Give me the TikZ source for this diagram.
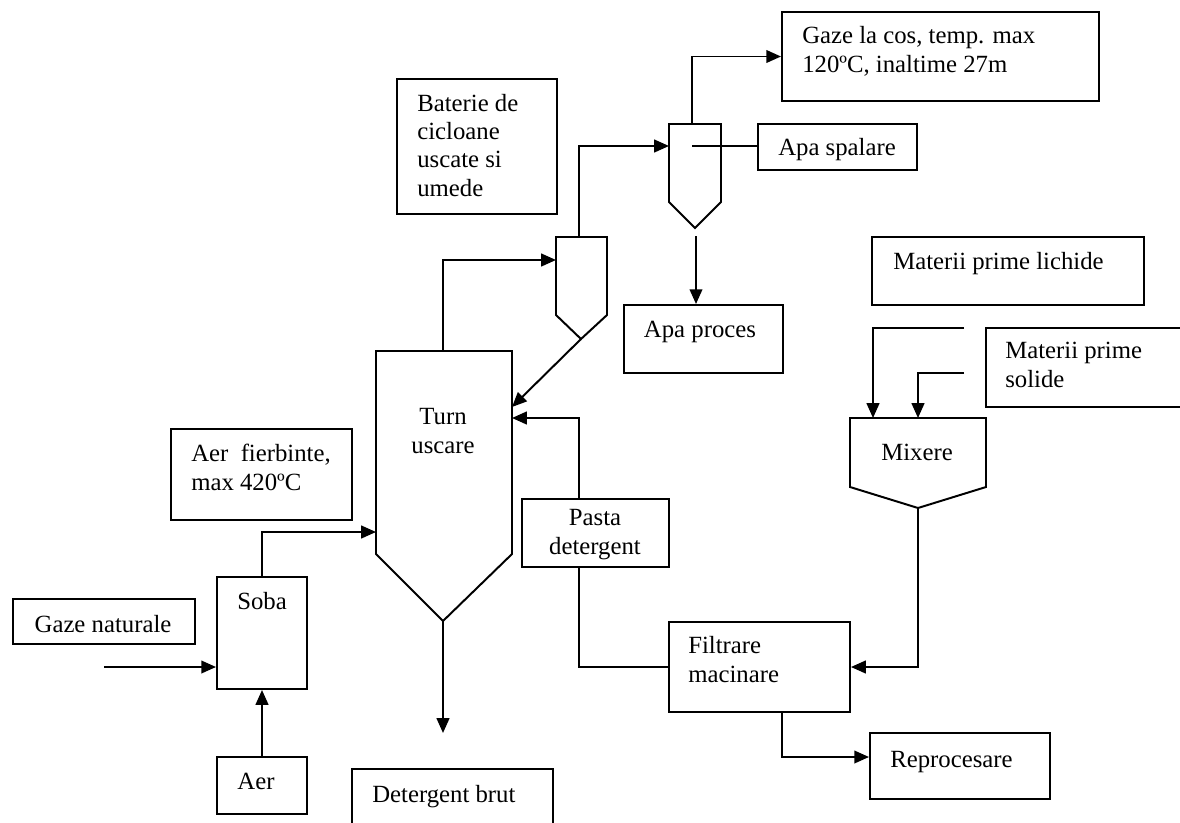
\documentclass[tikz,border=0pt]{standalone}
\usepackage{fontspec}
\setmainfont{Liberation Serif}
\usetikzlibrary{arrows.meta}

\tikzset{
  box/.style={draw, line width=1.4pt, inner sep=0pt},
  pipe/.style={line width=1.4pt},
  flow/.style={pipe, -{Triangle[length=10.5pt,width=9pt]}},
  txt/.style={inner sep=0pt, align=left, anchor=base west},
  ctxt/.style={inner sep=0pt, align=center, anchor=base},
}

\begin{document}
\begin{tikzpicture}[x=0.025cm, y=-0.025cm, font=\fontsize{17.6}{20}\selectfont]
      \useasboundingbox (0,0) rectangle (1180,823);
      % boxes: name/left/top/right/bottom
      \foreach \n/\l/\t/\r/\b in {gaze/782/12/1099/101, apaspal/758/124/917/170,
        baterie/397/79/557/214, apaproc/624/305/783/373, lichide/872/237/1144/305,
        solide/986/328/1210/407, pasta/522/499/669/567, filtrare/669/622/850/712,
        reproc/870/733/1050/799, detbrut/352/769/553/840, aerf/171/429/352/520,
        soba/217/577/307/689, gazenat/13/599/195/644, aer/217/757/307/814}{
        \node[box, minimum width={(\r-\l)*0.025cm}, minimum height={(\b-\t)*0.025cm}]
          (\n) at ({(\l+\r)/2}, {(\t+\b)/2}) {};
      }
      % texts (base = last line)
      \node[txt] (t-gaze) at (802,72) {Gaze la cos, temp. max\\120ºC, inaltime 27m};
      \node[ctxt] (t-apaspal) at (837,155) {Apa spalare};
      \node[txt] (t-baterie) at (417,196) {Baterie de\\cicloane\\uscate si\\umede};
      \node[ctxt] (t-apaproc) at (700,337) {Apa proces};
      \node[txt] (t-lichide) at (893,269) {Materii prime lichide};
      \node[txt] (t-solide) at (1005,387) {Materii prime\\solide};
      \node[ctxt] (t-pasta) at (595,554) {Pasta\\detergent};
      \node[txt] (t-filtrare) at (688,682) {Filtrare\\macinare};
      \node[txt] (t-reproc) at (890,767) {Reprocesare};
      \node[txt] (t-detbrut) at (372,802) {Detergent brut};
      \node[txt] (t-aerf) at (191,490) {Aer\ \ fierbinte,\\max 420ºC};
      \node[ctxt] (t-soba) at (262,609) {Soba};
      \node[ctxt] (t-gazenat) at (103,632) {Gaze naturale};
      \node[ctxt] (t-aer) at (256,789) {Aer};
      \node[ctxt] (t-turn) at (443,453) {Turn\\uscare};
      \node[ctxt] (t-mixere) at (917,460) {Mixere};

      % turn, cicloane, mixere
      \draw[pipe] (376,351) -- (376,554) -- (443,621) -- (512,554) -- (512,351) -- cycle;
      \draw[pipe] (556,237) -- (556,315) -- (581,339) -- (607,315) -- (607,237) -- cycle;
      \draw[pipe] (669,124) -- (669,202) -- (695,228) -- (721,202) -- (721,124) -- cycle;
      \draw[pipe] (850,418) -- (850,487) -- (918,508) -- (986,487) -- (986,418) -- cycle;
      \coordinate (tw-out) at (443,351);
      \coordinate (tw-air) at (376,532);
      \coordinate (tw-c1) at (512,407);
      \coordinate (tw-paste) at (512,418);
      \coordinate (tw-tip) at (443,621);
      \coordinate (c1-in) at (556,260);
      \coordinate (c1-out) at (579,237);
      \coordinate (c1-tip) at (581,339);
      \coordinate (c2-in) at (669,146);
      \coordinate (c2-out) at (692,124);
      \coordinate (c2-wash) at (692,146);
      \coordinate (c2-drain) at (696,236);
      \coordinate (mx-in1) at (873,418);
      \coordinate (mx-in2) at (918,418);
      \coordinate (mx-tip) at (918,508);
      \coordinate (lich-end) at (964,328);
      \coordinate (sol-end) at (964,373);
      \coordinate (gaz-end) at (104,667);
      \coordinate (det-end) at (443,733);

      % legaturi
      \draw[flow] (tw-out) |- (c1-in);
      \draw[flow] (c1-out) |- (c2-in);
      \draw[flow] (c2-out) |- (gaze.west);
      \draw[pipe] (c2-wash) -- (apaspal.west |- c2-wash);
      \draw[flow] (c2-drain) -- (c2-drain |- apaproc.north);
      \draw[flow] (c1-tip) -- (tw-c1);
      \draw[flow] (579,0 |- pasta.north) |- (tw-paste);
      \draw[pipe] (579,0 |- pasta.south) |- (filtrare.west);
      \draw[flow] (mx-tip) |- (filtrare.east);
      \draw[flow] (782,0 |- filtrare.south) |- (0,757 -| reproc.west);
      \draw[flow] (lich-end) -| (mx-in1);
      \draw[flow] (sol-end) -| (mx-in2);
      \draw[flow] (soba.north) |- (tw-air);
      \draw[flow] (gaz-end) -- (soba.west |- gaz-end);
      \draw[flow] (aer.north) -- (soba.south);
      \draw[flow] (tw-tip) -- (det-end);
\end{tikzpicture}
\end{document}
